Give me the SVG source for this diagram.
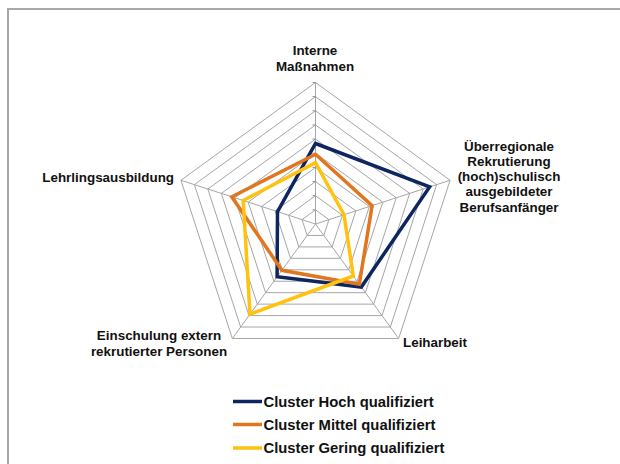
<svg xmlns="http://www.w3.org/2000/svg" width="620" height="464" viewBox="0 0 620 464">
<style>
.ring{fill:none;stroke:#a6a6a6;stroke-width:1}
.spoke{stroke:#a6a6a6;stroke-width:1}
.tick{stroke:#8c8c8c;stroke-width:1}
.lbl{font-family:"Liberation Sans",Arial,sans-serif;font-weight:bold;font-size:13.4px;fill:#111}
.leg{font-family:"Liberation Sans",Arial,sans-serif;font-weight:bold;font-size:14.8px;fill:#111}
.series{fill:none;stroke-width:3.5;stroke-linejoin:miter}
.hoch{stroke:#0d2560}
.mittel{stroke:#e2761f}
.gering{stroke:#ffc20e}
</style>
<rect x="0" y="0" width="620" height="464" fill="#ffffff"/>
<g id="frame">
<line x1="7" y1="9" x2="620" y2="9" stroke="#a8a8a8" stroke-width="2"/>
<line x1="8" y1="9" x2="8" y2="464" stroke="#a8a8a8" stroke-width="2"/>
</g>
<g id="grid">
<polygon class="ring" points="315.5,209.85 328.96,219.63 323.82,235.45 307.18,235.45 302.04,219.63"/>
<polygon class="ring" points="315.5,195.7 342.41,215.25 332.13,246.9 298.87,246.9 288.59,215.25"/>
<polygon class="ring" points="315.5,181.55 355.87,210.88 340.45,258.34 290.55,258.34 275.13,210.88"/>
<polygon class="ring" points="315.5,167.4 369.33,206.51 348.77,269.79 282.23,269.79 261.67,206.51"/>
<polygon class="ring" points="315.5,153.25 382.79,202.14 357.08,281.24 273.92,281.24 248.21,202.14"/>
<polygon class="ring" points="315.5,139.1 396.24,197.76 365.4,292.69 265.6,292.69 234.76,197.76"/>
<polygon class="ring" points="315.5,124.95 409.7,193.39 373.72,304.13 257.28,304.13 221.3,193.39"/>
<polygon class="ring" points="315.5,110.8 423.16,189.02 382.04,315.58 248.96,315.58 207.84,189.02"/>
<polygon class="ring" points="315.5,96.65 436.62,184.65 390.35,327.03 240.65,327.03 194.38,184.65"/>
<polygon class="ring" points="315.5,82.5 450.07,180.27 398.67,338.48 232.33,338.48 180.93,180.27"/>
<line class="spoke" x1="315.5" y1="224" x2="315.5" y2="82.5"/>
<line class="spoke" x1="315.5" y1="224" x2="450.07" y2="180.27"/>
<line class="spoke" x1="315.5" y1="224" x2="398.67" y2="338.48"/>
<line class="spoke" x1="315.5" y1="224" x2="232.33" y2="338.48"/>
<line class="spoke" x1="315.5" y1="224" x2="180.93" y2="180.27"/>
<g class="tick">
<line x1="312.5" y1="209.85" x2="315.5" y2="209.85"/>
<line x1="312.5" y1="195.7" x2="315.5" y2="195.7"/>
<line x1="312.5" y1="181.55" x2="315.5" y2="181.55"/>
<line x1="312.5" y1="167.4" x2="315.5" y2="167.4"/>
<line x1="312.5" y1="153.25" x2="315.5" y2="153.25"/>
<line x1="312.5" y1="139.1" x2="315.5" y2="139.1"/>
<line x1="312.5" y1="124.95" x2="315.5" y2="124.95"/>
<line x1="312.5" y1="110.8" x2="315.5" y2="110.8"/>
<line x1="312.5" y1="96.65" x2="315.5" y2="96.65"/>
<line x1="312.5" y1="82.5" x2="315.5" y2="82.5"/>
</g>
</g>
<g id="connectors">
<polygon id="series-hoch" class="series hoch" points="315.5,143.5 429.6,186.9 361.3,287.1 277.1,276.8 277.5,211.6"/>
<polygon id="series-mittel" class="series mittel" points="315.5,154.3 372.1,205.6 359.3,284.3 281.9,270.3 231.8,196.8"/>
<polygon id="series-gering" class="series gering" points="315.5,162.7 344,214.7 353.3,276 250,314.2 243.2,200.5"/>
</g>
<g id="axis-interne">
<text class="lbl" x="315" y="55" text-anchor="middle">Interne</text>
<text class="lbl" x="315" y="70.5" text-anchor="middle">Maßnahmen</text>
</g>
<g id="axis-ueberregional">
<text class="lbl" x="509" y="150.7" text-anchor="middle">Überregionale</text>
<text class="lbl" x="509" y="165.9" text-anchor="middle">Rekrutierung</text>
<text class="lbl" x="509" y="181.1" text-anchor="middle">(hoch)schulisch</text>
<text class="lbl" x="509" y="196.3" text-anchor="middle">ausgebildeter</text>
<text class="lbl" x="509" y="211.5" text-anchor="middle">Berufsanfänger</text>
</g>
<g id="axis-leiharbeit">
<text class="lbl" x="435" y="347" text-anchor="middle">Leiharbeit</text>
</g>
<g id="axis-einschulung">
<text class="lbl" x="159" y="340" text-anchor="middle">Einschulung extern</text>
<text class="lbl" x="159" y="355.7" text-anchor="middle">rekrutierter Personen</text>
</g>
<g id="axis-lehrling">
<text class="lbl" x="174" y="181.5" text-anchor="end">Lehrlingsausbildung</text>
</g>
<g id="legend">
<line class="hoch" x1="233" y1="401.5" x2="262" y2="401.5" stroke-width="3.5"/>
<text class="leg" x="263.5" y="406.5">Cluster Hoch qualifiziert</text>
<line class="mittel" x1="233" y1="424.5" x2="262" y2="424.5" stroke-width="3.5"/>
<text class="leg" x="263.5" y="429.5">Cluster Mittel qualifiziert</text>
<line class="gering" x1="233" y1="448" x2="262" y2="448" stroke-width="3.5"/>
<text class="leg" x="263.5" y="453">Cluster Gering qualifiziert</text>
</g>
</svg>
